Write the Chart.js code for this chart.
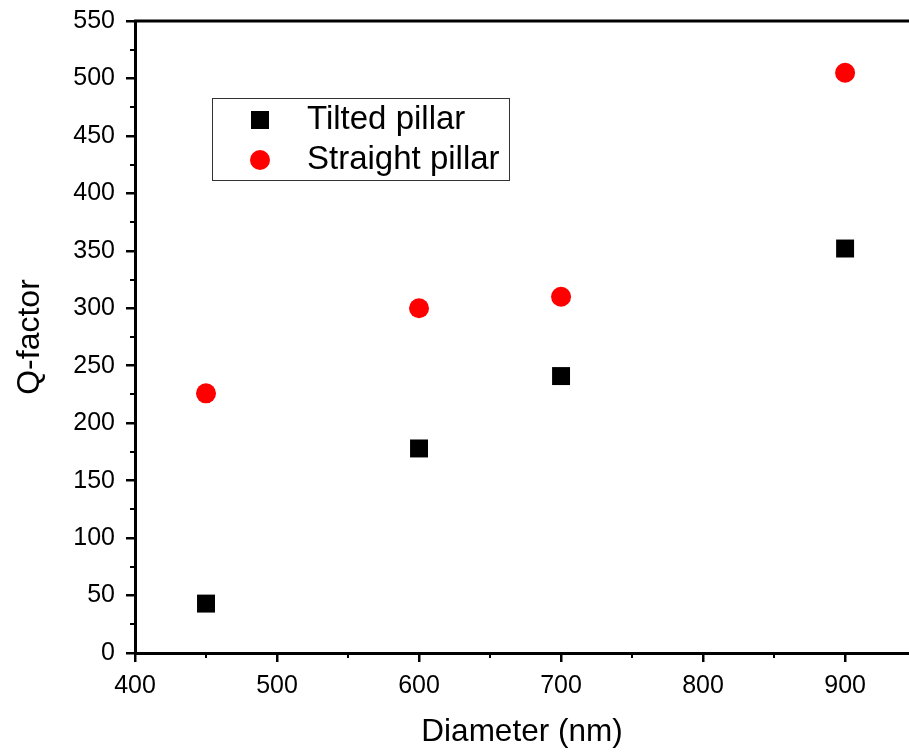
<!DOCTYPE html>
<html>
<head>
<meta charset="utf-8">
<script src="https://cdn.jsdelivr.net/npm/chart.js@4"></script>
<style>
  html, body { margin: 0; padding: 0; background: #fff; }
  #wrap { width: 909px; height: 754px; }
</style>
</head>
<body>
<div id="wrap"><canvas id="grafico" width="909" height="754"></canvas></div>
<script>
const diametros = [450, 600, 700, 900];
const tilted = [43, 178, 241, 352];
const straight = [226, 300, 310, 505];
const rotulos = ["Tilted pillar", "Straight pillar"];
const ticksX = [400, 500, 600, 700, 800, 900];

const fonte = "'Liberation Sans', Arial, sans-serif";

function pontos(xs, ys) {
  return xs.map((x, i) => ({ x: x, y: ys[i] }));
}

// ticks menores + linha de cima + legenda
const eixosExtras = {
  id: "eixosExtras",
  afterDraw(chart) {
    const ctx = chart.ctx;
    const area = chart.chartArea;
    const sx = chart.scales.x, sy = chart.scales.y;
    ctx.save();
    ctx.strokeStyle = "#000";
    ctx.lineWidth = 2;
    for (let v = 25; v < 550; v += 50) {
      const py = Math.round(sy.getPixelForValue(v));
      ctx.beginPath();
      ctx.moveTo(area.left - 5, py);
      ctx.lineTo(area.left, py);
      ctx.stroke();
    }
    for (let v = 450; v < 945; v += 100) {
      const px = Math.round(sx.getPixelForValue(v));
      ctx.beginPath();
      ctx.moveTo(px, area.bottom);
      ctx.lineTo(px, area.bottom + 5);
      ctx.stroke();
    }
    ctx.lineWidth = 3;
    ctx.beginPath();
    ctx.moveTo(area.left - 1, area.top);
    ctx.lineTo(area.right, area.top);
    ctx.stroke();

    // legenda dentro do gráfico
    const lx = 212, ly = 98, lw = 297, lh = 82;
    ctx.lineWidth = 1;
    ctx.strokeStyle = "#333";
    ctx.strokeRect(lx + 0.5, ly + 0.5, lw, lh);
    ctx.font = "33px " + fonte;
    ctx.fillStyle = "#000";
    ctx.textBaseline = "middle";
    ctx.textAlign = "left";
    ctx.fillText(rotulos[0], 307, 120);
    ctx.fillText(rotulos[1], 307, 160);
    ctx.fillStyle = "#000";
    ctx.fillRect(251, 111, 18, 18);
    ctx.fillStyle = "#ff0000";
    ctx.beginPath();
    ctx.arc(260, 160, 10, 0, Math.PI * 2);
    ctx.fill();
    ctx.restore();
  }
};

new Chart(document.getElementById("grafico").getContext("2d"), {
  type: "scatter",
  data: {
    datasets: [{
      label: rotulos[0],
      data: pontos(diametros, tilted),
      pointStyle: "rect",
      pointRadius: 12.7,
      pointHoverRadius: 12.7,
      backgroundColor: "#000",
      borderColor: "#000",
      borderWidth: 0
    }, {
      label: rotulos[1],
      data: pontos(diametros, straight),
      pointStyle: "circle",
      pointRadius: 10,
      pointHoverRadius: 10,
      backgroundColor: "#ff0000",
      borderColor: "#ff0000",
      borderWidth: 0
    }]
  },
  options: {
    responsive: false,
    animation: false,
    layout: { autoPadding: false, padding: { top: 21, right: 0, left: 0, bottom: 0 } },
    plugins: {
      legend: { display: false },
      tooltip: { enabled: false }
    },
    scales: {
      x: {
        type: "linear",
        min: 400,
        max: 945,
        afterBuildTicks: s => { s.ticks = ticksX.map(v => ({ value: v })); },
        afterFit: s => { s.height = 101; s.paddingLeft = 0; s.paddingRight = 0; },
        ticks: { autoSkip: false, color: "#000", font: { family: fonte, size: 25 }, padding: 9, maxRotation: 0 },
        grid: { drawOnChartArea: false, drawTicks: true, tickLength: 9, color: "#000", lineWidth: 2.5 },
        border: { display: true, color: "#000", width: 3 },
        title: { display: true, text: "Diameter (nm)", color: "#000", font: { family: fonte, size: 31.5 }, padding: { top: 0, bottom: 3 } }
      },
      y: {
        type: "linear",
        min: 0,
        max: 550,
        afterFit: s => { s.width = 135; s.paddingTop = 0; s.paddingBottom = 0; },
        ticks: { stepSize: 50, color: "#000", font: { family: fonte, size: 25 }, padding: 11 },
        grid: { drawOnChartArea: false, drawTicks: true, tickLength: 9, color: "#000", lineWidth: 2.5 },
        border: { display: true, color: "#000", width: 3 },
        title: { display: true, text: "Q-factor", color: "#000", font: { family: fonte, size: 32 }, padding: { top: 11, bottom: 0 } }
      }
    }
  },
  plugins: [eixosExtras]
});
</script>
</body>
</html>
